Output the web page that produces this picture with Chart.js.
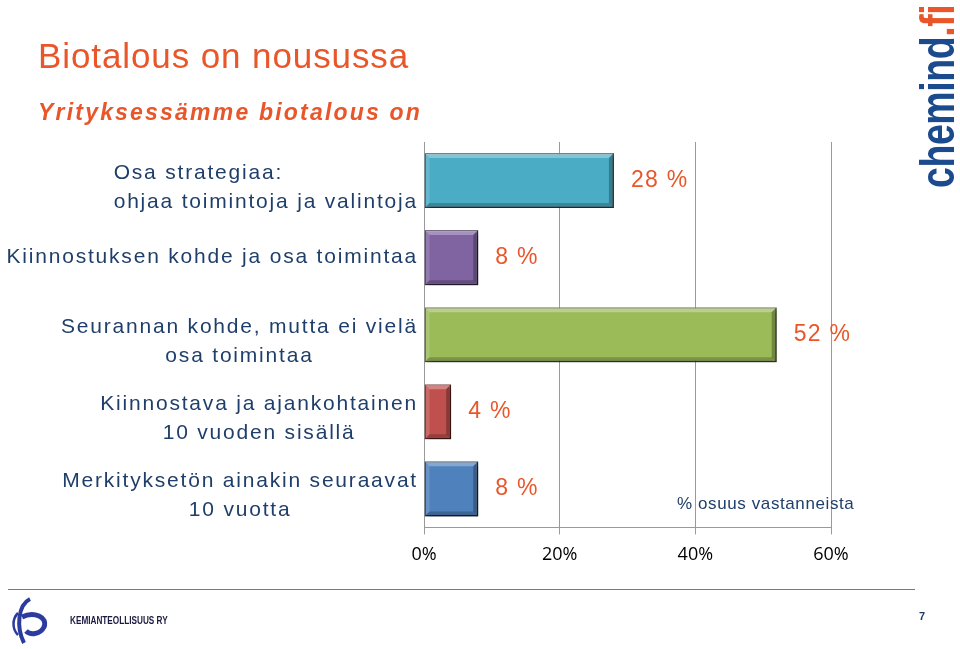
<!DOCTYPE html>
<html>
<head>
<meta charset="utf-8">
<script src="https://cdn.jsdelivr.net/npm/chart.js@4"></script>
<style>
  body { margin: 0; background: #fff; }
  #wrap { position: relative; width: 960px; height: 649px; overflow: hidden; font-family: "Liberation Sans", Arial, sans-serif; }
  #chart { position: absolute; left: 0; top: 0; }
  .title { position: absolute; left: 38px; top: 36px; font-size: 35px; color: #E8562A; letter-spacing: 0.9px; white-space: nowrap; }
  .sub { position: absolute; left: 38px; top: 99px; font-size: 23px; font-weight: bold; font-style: italic; color: #E8562A; letter-spacing: 2.2px; white-space: nowrap; }
  .logo { position: absolute; left: 917px; top: 188px; height: 42px; line-height: 42px; white-space: nowrap;
          transform-origin: 0 0; transform: rotate(-90deg) scaleX(0.78);
          font-weight: bold; font-size: 48px; color: #1B4B8C; letter-spacing: -0.5px; }
  .logo span { color: #E8562A; }
  .foot { position: absolute; left: 8px; top: 589px; width: 907px; height: 0; border-top: 1.5px solid #5B7FA6; }
  .org { position: absolute; left: 70px; top: 615px; font-weight: bold; font-size: 10px; color: #1a1a40; white-space: nowrap;
         transform-origin: 0 0; transform: scaleX(0.82); }
  .page { position: absolute; left: 919px; top: 610px; font-weight: bold; font-size: 11px; color: #1B3A6B; }
  .icon { position: absolute; left: 8px; top: 597px; }
  .unit { position: absolute; left: 677px; top: 494px; font-size: 17px; color: #1F3F6A; letter-spacing: 0.6px; white-space: nowrap; }
</style>
</head>
<body>
<div id="wrap">
  <canvas id="chart" width="960" height="649"></canvas>
  <div class="title">Biotalous on nousussa</div>
  <div class="sub">Yrityksessämme biotalous on</div>
  <div class="logo">chemind<span>.fi</span></div>
  <div class="unit">% osuus vastanneista</div>
  <div class="foot"></div>
  <svg class="icon" width="46" height="50" viewBox="0 0 46 50">
    <path d="M22 2 C10 8 8 30 16 46" stroke="#2B3C9E" stroke-width="4" fill="none"/>
    <path d="M10 16 C4 22 4 32 10 38" stroke="#2B3C9E" stroke-width="2.5" fill="none"/>
    <path d="M14 20 C26 14 40 20 36 30 C32 38 22 38 18 34" stroke="#2B3C9E" stroke-width="5" fill="none"/>
  </svg>
  <div class="org">KEMIANTEOLLISUUS RY</div>
  <div class="page">7</div>
</div>
<script>
// --- DATA ---
const categories = [
    ['Osa strategiaa:', 'ohjaa toimintoja ja valintoja'],
    ['Kiinnostuksen kohde ja osa toimintaa'],
    ['Seurannan kohde, mutta ei vielä', 'osa toimintaa'],
    ['Kiinnostava ja ajankohtainen', '10 vuoden sisällä'],
    ['Merkityksetön ainakin seuraavat', '10 vuotta']
];
const shares = [28, 8, 52, 4, 8];
const xTicks = [0, 20, 40, 60];

const barColors = ['#4BACC6', '#8064A2', '#9BBB59', '#C0504D', '#4F81BD'];
const barEdges = ['#215968', '#3F3151', '#4F6228', '#632523', '#17375E'];
const labelAlign = ['left', 'center', 'center', 'center', 'center'];

const ORANGE = '#E8562A';
const NAVY = '#1F3F6A';
const FONT = '"Liberation Sans", Arial, sans-serif';

// bar shadow + bevel
const bevelPlugin = {
    id: 'bevel',
    beforeDatasetsDraw(chart) {
        const c = chart.ctx;
        c.save();
        c.shadowColor = 'rgba(0,0,0,0.35)';
        c.shadowOffsetX = 3;
        c.shadowOffsetY = 3;
        c.shadowBlur = 4;
    },
    afterDatasetsDraw(chart) {
        const c = chart.ctx;
        c.restore();
        chart.getDatasetMeta(0).data.forEach(bar => {
            const x0 = bar.base, x1 = bar.x;
            const y0 = bar.y - bar.height / 2, y1 = bar.y + bar.height / 2;
            const b = 5;
            c.save();
            // top light strip
            c.fillStyle = 'rgba(255,255,255,0.3)';
            c.beginPath(); c.moveTo(x0, y0); c.lineTo(x1, y0); c.lineTo(x1 - b, y0 + b); c.lineTo(x0 + b, y0 + b); c.closePath(); c.fill();
            // left light strip
            c.fillStyle = 'rgba(255,255,255,0.15)';
            c.beginPath(); c.moveTo(x0, y0); c.lineTo(x0 + b, y0 + b); c.lineTo(x0 + b, y1 - b); c.lineTo(x0, y1); c.closePath(); c.fill();
            // bottom + right dark strips
            c.fillStyle = 'rgba(0,0,0,0.22)';
            c.beginPath(); c.moveTo(x0, y1); c.lineTo(x1, y1); c.lineTo(x1 - b, y1 - b); c.lineTo(x0 + b, y1 - b); c.closePath(); c.fill();
            c.fillStyle = 'rgba(0,0,0,0.28)';
            c.beginPath(); c.moveTo(x1, y0); c.lineTo(x1, y1); c.lineTo(x1 - b, y1 - b); c.lineTo(x1 - b, y0 + b); c.closePath(); c.fill();
            c.restore();
        });
    }
};

// value labels + category labels
const labelPlugin = {
    id: 'labels',
    afterDraw(chart) {
        const c = chart.ctx;
        const meta = chart.getDatasetMeta(0);
        c.save();
        c.textBaseline = 'middle';

        // values
        c.letterSpacing = '1.3px';
        c.font = '23px ' + FONT;
        c.fillStyle = ORANGE;
        c.textAlign = 'left';
        meta.data.forEach((bar, i) => {
            c.fillText(shares[i] + ' %', bar.x + 17, bar.y);
        });

        // categories, right edge at the axis
        c.letterSpacing = '1.8px';
        c.font = '21px ' + FONT;
        c.fillStyle = NAVY;
        const right = chart.chartArea.left - 6;
        const lh = 29;
        meta.data.forEach((bar, i) => {
            const lines = categories[i];
            const w = Math.max(...lines.map(t => c.measureText(t).width));
            const shift = lines.length > 1 ? 7 : 0;
            const top = bar.y + shift - (lines.length - 1) * lh / 2;
            if (labelAlign[i] === 'left') {
                c.textAlign = 'left';
                lines.forEach((t, k) => c.fillText(t, right - w, top + k * lh));
            } else {
                c.textAlign = 'center';
                lines.forEach((t, k) => c.fillText(t, right - w / 2, top + k * lh));
            }
        });
        c.restore();
    }
};

const chart = new Chart(document.getElementById('chart'), {
    type: 'bar',
    data: {
        labels: categories,
        datasets: [{
            data: shares,
            backgroundColor: barColors,
            borderColor: barEdges,
            borderWidth: 1.5,
            borderSkipped: false,
            categoryPercentage: 1,
            barPercentage: 0.715
        }]
    },
    options: {
        indexAxis: 'y',
        responsive: false,
        animation: false,
        layout: { padding: { left: 424, right: 129, top: 142, bottom: 73 } },
        plugins: { legend: { display: false }, tooltip: { enabled: false } },
        scales: {
            y: { display: false },
            x: {
                min: 0, max: 60,
                afterBuildTicks: axis => { axis.ticks = xTicks.map(v => ({ value: v })); },
                grid: { color: '#9A9A9A', lineWidth: 1, tickLength: 7 },
                border: { color: '#9A9A9A' },
                ticks: {
                    padding: 10,
                    color: '#000',
                    font: { family: '"Open Sans", Lato, sans-serif', size: 18 },
                    callback: v => v + '%'
                }
            }
        }
    },
    plugins: [bevelPlugin, labelPlugin]
});
</script>
</body>
</html>
